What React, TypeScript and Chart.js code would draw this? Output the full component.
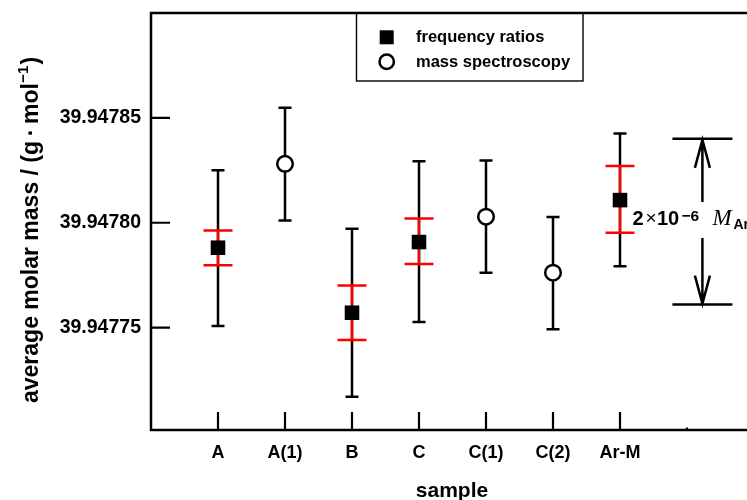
import React, { useEffect, useRef } from 'react';
import { Chart, registerables } from 'chart.js';

Chart.register(...registerables);

// ---------- data ----------
const categories = ['A', 'A(1)', 'B', 'C', 'C(1)', 'C(2)', 'Ar-M'];
const methods = ['frequency', 'mass', 'frequency', 'frequency', 'mass', 'mass', 'frequency'];
const meanValues = [39.9477881, 39.9478281, 39.9477571, 39.9477908, 39.9478029, 39.9477762, 39.9478108];
const totalUpper = [39.9478250, 39.9478548, 39.9477971, 39.9478293, 39.9478297, 39.9478027, 39.9478425];
const totalLower = [39.9477508, 39.9478011, 39.9477171, 39.9477527, 39.9477762, 39.9477492, 39.9477793];
const statUpper: (number | null)[] = [39.9477963, null, 39.9477701, 39.9478020, null, null, 39.9478270];
const statLower: (number | null)[] = [39.9477798, null, 39.9477441, 39.9477803, null, null, 39.9477952];
const yTickValues = [39.94775, 39.9478, 39.94785];
const yAxisMin = 39.9477012;
const yAxisMax = 39.9479;
const scaleBarValues = [39.947761, 39.94784]; // span of 2×10^-6 M_Ar
const legendLabels = ['frequency ratios', 'mass spectroscopy'];
const xTitle = 'sample';
const yTitleMain = 'average molar mass / (g\u2009\u00B7\u2009mol';
const yTitleSup = '\u22121';

const SANS = "'Liberation Sans', Arial, Helvetica, sans-serif";
const SERIF = "'Liberation Serif', 'Times New Roman', serif";

const framePlugin = {
  id: 'frame',
  afterLayout(chart: any) {
    // let the plot box run to the right edge of the canvas (open on the right)
    const ca = chart.chartArea;
    const xs = chart.scales.x;
    ca.right = chart.width;
    ca.width = ca.right - ca.left;
    xs.right = chart.width;
    xs.width = xs.right - xs.left;
    xs.configure();
  },
  beforeDatasetsDraw(chart: any) {
    const { ctx, chartArea, scales } = chart;
    const xs = scales.x;
    const ys = scales.y;
    ctx.save();
    ctx.strokeStyle = '#000';
    ctx.lineCap = 'butt';
    ctx.lineWidth = 2.5;
    ctx.beginPath();
    ctx.moveTo(chartArea.left, chartArea.top);
    ctx.lineTo(chartArea.left, chartArea.bottom + 1.2);
    ctx.moveTo(chartArea.left - 1.2, chartArea.bottom);
    ctx.lineTo(chart.width, chartArea.bottom);
    ctx.moveTo(chartArea.left - 1.2, chartArea.top);
    ctx.lineTo(chart.width, chartArea.top);
    ctx.stroke();
    ctx.lineWidth = 2.2;
    ctx.beginPath();
    yTickValues.forEach((v) => {
      const y = ys.getPixelForValue(v);
      ctx.moveTo(chartArea.left, y);
      ctx.lineTo(chartArea.left + 19, y);
    });
    categories.forEach((_, i) => {
      const x = xs.getPixelForValue(i + 1);
      ctx.moveTo(x, chartArea.bottom);
      ctx.lineTo(x, chartArea.bottom - 18);
    });
    const x8 = xs.getPixelForValue(categories.length + 1);
    ctx.moveTo(x8, chartArea.bottom);
    ctx.lineTo(x8, chartArea.bottom - 2.5);
    ctx.stroke();

    meanValues.forEach((_, i) => {
      const x = xs.getPixelForValue(i + 1);
      const yt = ys.getPixelForValue(totalUpper[i]);
      const yb = ys.getPixelForValue(totalLower[i]);
      ctx.strokeStyle = '#000';
      ctx.lineWidth = 2.5;
      ctx.beginPath();
      ctx.moveTo(x, yt);
      ctx.lineTo(x, yb);
      ctx.moveTo(x - 6.5, yt);
      ctx.lineTo(x + 6.5, yt);
      ctx.moveTo(x - 6.5, yb);
      ctx.lineTo(x + 6.5, yb);
      ctx.stroke();
      const su = statUpper[i];
      const sl = statLower[i];
      if (su != null && sl != null) {
        const rt = ys.getPixelForValue(su);
        const rb = ys.getPixelForValue(sl);
        ctx.strokeStyle = '#ff0000';
        ctx.lineWidth = 2.5;
        ctx.beginPath();
        ctx.moveTo(x, rt);
        ctx.lineTo(x, rb);
        ctx.moveTo(x - 14.5, rt);
        ctx.lineTo(x + 14.5, rt);
        ctx.moveTo(x - 14.5, rb);
        ctx.lineTo(x + 14.5, rb);
        ctx.stroke();
      }
    });
    ctx.restore();
  },
  afterDraw(chart: any) {
    const { ctx, chartArea, scales } = chart;
    const xs = scales.x;
    const ys = scales.y;
    ctx.save();
    ctx.fillStyle = '#000';
    ctx.strokeStyle = '#000';

    // legend
    ctx.lineWidth = 1.4;
    ctx.strokeRect(356.5, chartArea.top, 226.5, 68);
    ctx.fillRect(386.7 - 7, 37.3 - 7, 14, 14);
    ctx.lineWidth = 2.5;
    ctx.beginPath();
    ctx.fillStyle = '#fff';
    ctx.arc(386.7, 61.7, 7.2, 0, Math.PI * 2);
    ctx.fill();
    ctx.stroke();
    ctx.fillStyle = '#000';
    ctx.font = `bold 16.5px ${SANS}`;
    ctx.textAlign = 'left';
    ctx.textBaseline = 'middle';
    ctx.fillText(legendLabels[0], 416, 37.5);
    ctx.fillText(legendLabels[1], 416, 62);

    // 2×10^-6 M_Ar scale bar
    const ax = xs.getPixelForValue(8.23);
    const yT = ys.getPixelForValue(scaleBarValues[1]);
    const yB = ys.getPixelForValue(scaleBarValues[0]);
    const textY = 220;
    ctx.lineWidth = 2.5;
    ctx.beginPath();
    ctx.moveTo(ax - 30, yT);
    ctx.lineTo(ax + 30, yT);
    ctx.moveTo(ax - 30, yB);
    ctx.lineTo(ax + 30, yB);
    ctx.moveTo(ax, yT);
    ctx.lineTo(ax, textY - 18);
    ctx.moveTo(ax, textY + 18);
    ctx.lineTo(ax, yB);
    ctx.moveTo(ax - 7.5, yT + 29);
    ctx.lineTo(ax, yT + 1);
    ctx.lineTo(ax + 7.5, yT + 29);
    ctx.moveTo(ax - 7.5, yB - 29);
    ctx.lineTo(ax, yB - 1);
    ctx.lineTo(ax + 7.5, yB - 29);
    ctx.stroke();

    ctx.textBaseline = 'alphabetic';
    ctx.font = `bold 20px ${SANS}`;
    ctx.fillText('2', ax - 70, 225);
    ctx.font = `19px ${SANS}`;
    ctx.fillText('\u00D7', ax - 57, 224);
    ctx.font = `bold 20px ${SANS}`;
    ctx.fillText('10', ax - 45.5, 225);
    ctx.font = `bold 15.5px ${SANS}`;
    ctx.fillText('\u22126', ax - 21, 221);
    ctx.font = `italic 23px ${SERIF}`;
    ctx.fillText('M', ax + 10, 225);
    ctx.font = `bold 14px ${SANS}`;
    ctx.fillText('Ar', ax + 31, 229);

    // axis titles
    ctx.font = `bold 21px ${SANS}`;
    ctx.textAlign = 'center';
    ctx.textBaseline = 'middle';
    ctx.fillText(xTitle, 452, 491);

    ctx.translate(32, 403);
    ctx.rotate(-Math.PI / 2);
    ctx.textAlign = 'left';
    ctx.textBaseline = 'middle';
    ctx.font = `bold 23px ${SANS}`;
    ctx.fillText(yTitleMain, 0, 0);
    const w1 = ctx.measureText(yTitleMain).width;
    ctx.font = `bold 15px ${SANS}`;
    ctx.fillText(yTitleSup, w1 + 0.5, -8);
    const w2 = ctx.measureText(yTitleSup).width;
    ctx.font = `bold 23px ${SANS}`;
    ctx.fillText(')', w1 + w2 + 1.5, 0);
    ctx.restore();
  },
};

export default function App() {
  const canvasRef = useRef<HTMLCanvasElement | null>(null);

  useEffect(() => {
    const canvas = canvasRef.current;
    if (!canvas) return;
    Chart.defaults.color = '#000';
    const freqPoints: { x: number; y: number }[] = [];
    const massPoints: { x: number; y: number }[] = [];
    meanValues.forEach((v, i) => {
      const p = { x: i + 1, y: v };
      if (methods[i] === 'frequency') freqPoints.push(p);
      else massPoints.push(p);
    });

    const chart = new Chart(canvas, {
      type: 'scatter',
      data: {
        datasets: [
          {
            label: legendLabels[0],
            data: freqPoints,
            pointStyle: 'rect',
            pointRadius: 10.3,
            pointHoverRadius: 10.3,
            backgroundColor: '#000',
            borderColor: '#000',
            borderWidth: 0,
            showLine: false,
          },
          {
            label: legendLabels[1],
            data: massPoints,
            pointStyle: 'circle',
            pointRadius: 7.8,
            pointHoverRadius: 7.8,
            backgroundColor: '#fff',
            borderColor: '#000',
            borderWidth: 2.5,
            showLine: false,
          },
        ],
      },
      options: {
        responsive: false,
        animation: false,
        events: [],
        layout: { padding: { top: 13, right: 0, left: 0, bottom: 0 } },
        plugins: {
          legend: { display: false },
          tooltip: { enabled: false },
        },
        scales: {
          x: {
            type: 'linear',
            min: 0,
            max: 8.8955,
            grid: { display: false, drawTicks: false },
            border: { display: false },
            afterFit: (s: any) => {
              s.height = 70;
              s.paddingLeft = 0;
              s.paddingRight = 0;
            },
            afterBuildTicks: (s: any) => {
              s.ticks = categories.map((_, i) => ({ value: i + 1 }));
            },
            ticks: {
              autoSkip: false,
              maxRotation: 0,
              padding: 12,
              color: '#000',
              font: { family: SANS, size: 18, weight: 'bold' },
              callback: (v: any) => categories[Math.round(Number(v)) - 1] ?? '',
            },
          },
          y: {
            type: 'linear',
            min: yAxisMin,
            max: yAxisMax,
            grid: { display: false, drawTicks: false },
            border: { display: false },
            afterFit: (s: any) => {
              s.width = 151;
              s.paddingTop = 0;
              s.paddingBottom = 0;
            },
            afterBuildTicks: (s: any) => {
              s.ticks = yTickValues.map((v) => ({ value: v }));
            },
            ticks: {
              autoSkip: false,
              padding: 10,
              color: '#000',
              font: { family: SANS, size: 19.5, weight: 'bold' },
              callback: (v: any) => Number(v).toFixed(5),
            },
          },
        },
      },
      plugins: [framePlugin],
    } as any);

    return () => {
      chart.destroy();
    };
  }, []);

  return (
    <div style={{ position: 'fixed', left: 0, top: 0, width: 747, height: 500, background: '#fff' }}>
      <canvas ref={canvasRef} width={747} height={500} style={{ display: 'block' }} />
    </div>
  );
}
